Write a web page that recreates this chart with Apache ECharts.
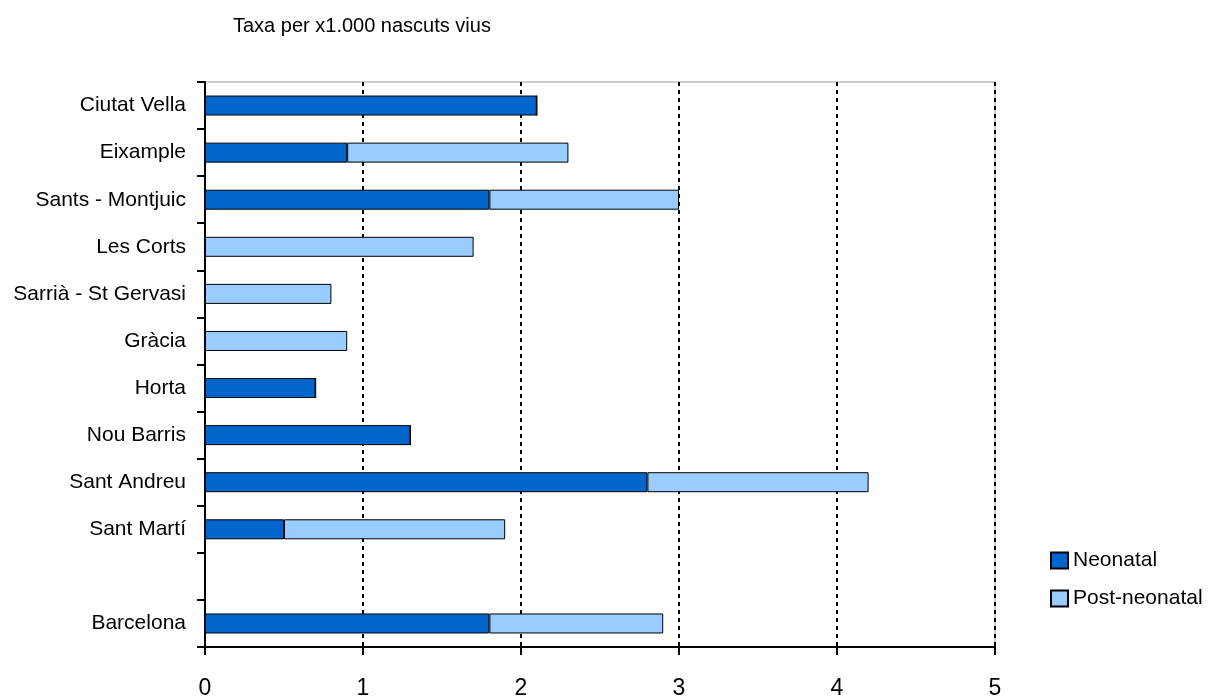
<!DOCTYPE html>
<html>
<head>
<meta charset="utf-8">
<title>Taxa per x1.000 nascuts vius</title>
<script src="https://cdn.jsdelivr.net/npm/echarts@6/dist/echarts.min.js"></script>
<style>
  html, body { margin: 0; padding: 0; background: #fff; }
  #chart { width: 1221px; height: 700px; }
</style>
</head>
<body>
<div id="chart"></div>
<script>
// Districts (top to bottom); the blank entry leaves a gap before the city total
const districts = ['Ciutat Vella', 'Eixample', 'Sants - Montjuic', 'Les Corts',
  'Sarrià - St Gervasi', 'Gràcia', 'Horta', 'Nou Barris', 'Sant Andreu',
  'Sant Martí', '', 'Barcelona'];

// Rates per 1,000 live births
const neonatal     = [2.1, 0.9, 1.8, 0, 0, 0, 0.7, 1.3, 2.8, 0.5, null, 1.8];
const postNeonatal = [0, 1.4, 1.2, 1.7, 0.8, 0.9, 0, 0, 1.4, 1.4, null, 1.1];

const xTicks = [0, 1, 2, 3, 4, 5];

const font = 'Liberation Sans, Arial, sans-serif';
const chart = echarts.init(document.getElementById('chart'), null, { renderer: 'canvas' });

chart.setOption({
  animation: false,
  backgroundColor: '#fff',
  textStyle: { fontFamily: font, color: '#000' },
  title: {
    text: 'Taxa per x1.000 nascuts vius',
    left: 228, top: 11,
    textStyle: { fontFamily: font, fontSize: 20, fontWeight: 'normal', color: '#000' }
  },
  legend: {
    orient: 'vertical',
    left: 1045, top: 545,
    itemWidth: 17, itemHeight: 16, itemGap: 17,
    icon: 'rect',
    textStyle: { fontFamily: font, fontSize: 21, color: '#000' },
    data: ['Neonatal', 'Post-neonatal']
  },
  grid: {
    left: 205, right: 226, top: 82, bottom: 52,
    show: true, borderColor: '#999', borderWidth: 1,
    containLabel: false
  },
  xAxis: {
    type: 'value',
    min: xTicks[0], max: xTicks[xTicks.length - 1], interval: 1,
    axisLine: { show: true, lineStyle: { color: '#000', width: 2 } },
    axisTick: { show: true, length: 8, lineStyle: { color: '#000', width: 2 } },
    axisLabel: { fontFamily: font, fontSize: 23, color: '#000', margin: 30 },
    splitLine: { show: true, lineStyle: { color: '#000', width: 2, type: [4, 4] } }
  },
  yAxis: {
    type: 'category',
    data: districts,
    inverse: true,
    axisLine: { show: true, lineStyle: { color: '#000', width: 2 } },
    axisTick: { show: true, length: 8, lineStyle: { color: '#000', width: 2 } },
    axisLabel: { fontFamily: font, fontSize: 21, color: '#000', margin: 19 },
    splitLine: { show: false }
  },
  series: [
    {
      name: 'Neonatal', type: 'bar', stack: 'total', barWidth: 20,
      data: neonatal,
      itemStyle: { color: '#0066CC', borderColor: '#000', borderWidth: 1 }
    },
    {
      name: 'Post-neonatal', type: 'bar', stack: 'total', barWidth: 20,
      data: postNeonatal,
      itemStyle: { color: '#99CCFF', borderColor: '#000', borderWidth: 1 }
    }
  ]
});
</script>
</body>
</html>
